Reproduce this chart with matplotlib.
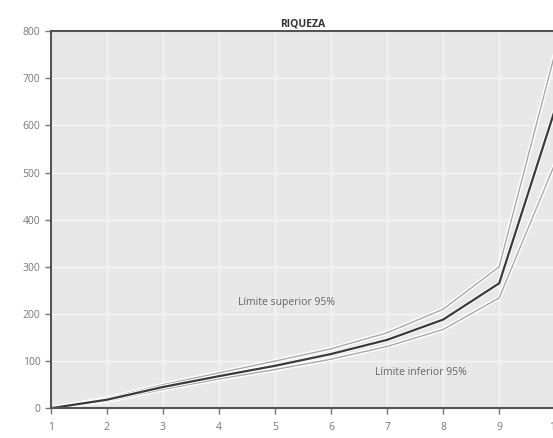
import numpy as np
import matplotlib.pyplot as plt
import matplotlib.patheffects as pe

plt.rcParams['font.family'] = ['Open Sans', 'DejaVu Sans']

x = [1, 2, 3, 4, 5, 6, 7, 8, 9, 10]
riqueza = [0, 18, 45, 68, 90, 115, 145, 188, 265, 635]
superior = [0, 21, 50, 75, 100, 126, 160, 210, 300, 755]
inferior = [0, 15, 40, 62, 82, 104, 131, 167, 234, 520]

fig = plt.figure(figsize=(5.53, 4.38), dpi=100)
ax = fig.add_axes([0.092, 0.068, 0.912, 0.861])
ax.set_facecolor('#e8e8e8')

halo = [pe.Stroke(linewidth=3, foreground='white'), pe.Normal()]
ax.plot(x, superior, color='#a8a8a8', lw=1.0, path_effects=halo)
ax.plot(x, inferior, color='#a8a8a8', lw=1.0, path_effects=halo)
ax.plot(x, riqueza, color='#3a3a3a', lw=1.6, path_effects=halo)

ax.text(5.2, 225, 'Límite superior 95%', fontsize=7.5, color='#666666', ha='center', va='center')
ax.text(7.6, 76, 'Límite inferior 95%', fontsize=7.5, color='#666666', ha='center', va='center')

ax.set_xlim(1, 10)
ax.set_ylim(0, 800)
ax.set_xticks(x)
ax.set_yticks(np.arange(0, 801, 100))
ax.grid(True, color='#f6f6f6', lw=1.0)
ax.set_axisbelow(True)
ax.tick_params(labelsize=7.5, colors='#777777', length=4, width=1)
ax.tick_params(axis='x', pad=6)

for side in ['left', 'bottom', 'top']:
    ax.spines[side].set_color('#555555')
    ax.spines[side].set_linewidth(1.5)
ax.spines['right'].set_visible(False)

ax.set_title('RIQUEZA', fontsize=7.5, fontweight='bold', color='#333333', pad=3)

plt.savefig('out.png', dpi=100)
